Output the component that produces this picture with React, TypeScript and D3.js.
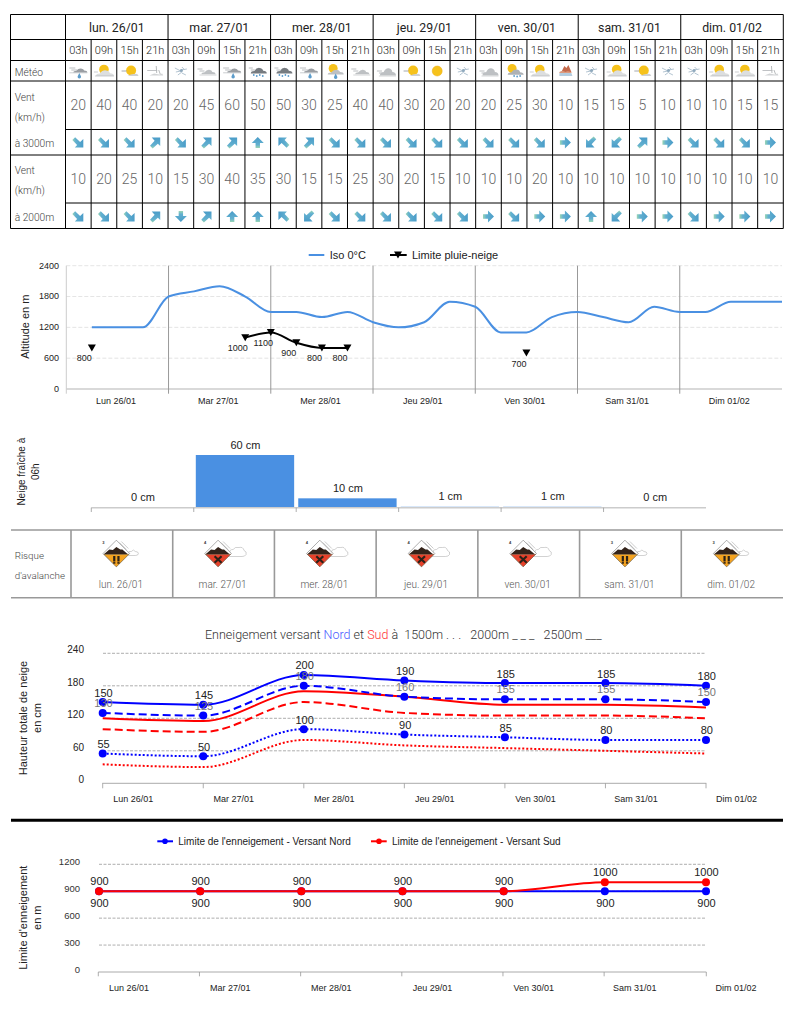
import * as d3 from "d3";

const ROBOTO = "Roboto, sans-serif";
const ARIAL = "'Liberation Sans', Arial, sans-serif";

// table
const tableDays = ["lun. 26/01", "mar. 27/01", "mer. 28/01", "jeu. 29/01", "ven. 30/01", "sam. 31/01", "dim. 01/02"];
const hours = ["03h", "09h", "15h", "21h"];
const weather = [
  "streakDrop", "sunCloud", "sunLow", "night",
  "windSnow", "flat", "streakDrop", "darkRain",
  "darkRain", "streakDrop", "sunDrop", "flat",
  "flatBig", "sunLow", "sun", "windSnow",
  "flatBig", "sunRain", "sunCloud", "storm",
  "windSnow", "sunCloud", "sunLow", "windSnow",
  "windSnow", "sunCloud", "sunCloud", "night",
];
const wind3000 = [20, 40, 40, 20, 20, 45, 60, 50, 50, 30, 25, 40, 40, 30, 20, 20, 20, 25, 30, 10, 15, 15, 5, 10, 10, 10, 15, 15];
const dir3000 = ["SE", "SE", "SE", "NE", "SE", "NE", "NE", "N", "NW", "NE", "SE", "SE", "SE", "SE", "SE", "SE", "SE", "SE", "SE", "E", "SW", "SW", "NE", "E", "SE", "SE", "SE", "E"];
const wind2000 = [10, 20, 25, 10, 15, 30, 40, 35, 30, 15, 15, 25, 30, 20, 15, 10, 10, 10, 20, 10, 10, 10, 10, 10, 10, 10, 10, 10];
const dir2000 = ["SE", "SE", "SE", "NE", "S", "NE", "N", "N", "NW", "SW", "SE", "SE", "SE", "SE", "SE", "SE", "E", "SE", "E", "E", "N", "SW", "E", "E", "SE", "E", "E", "E"];

// iso 0 and rain/snow limit, one value every 6h starting Lun 06h
const axisDays = ["Lun 26/01", "Mar 27/01", "Mer 28/01", "Jeu 29/01", "Ven 30/01", "Sam 31/01", "Dim 01/02"];
const isoValues = [1200, 1200, 1200, 1800, 1900, 2000, 1800, 1500, 1500, 1400, 1500, 1300, 1200, 1300, 1700, 1600, 1100, 1100, 1400, 1500, 1400, 1300, 1600, 1500, 1500, 1700, 1700, 1700];
const snowLimit: (number | null)[] = [800, null, null, null, null, null, 1000, 1100, 900, 800, 800, null, null, null, null, null, null, 700, null, null, null, null, null, null, null, null, null, null];
const altitudeTicks = [0, 600, 1200, 1800, 2400];

// fresh snow
const freshSnow = [0, 60, 10, 1, 1, 0];

// avalanche
const avalancheLevel = [3, 4, 4, 4, 4, 3, 3];

// snow depth
const depthTicks = [0, 60, 120, 180, 240];
const nord2500 = [150, 145, 200, 190, 185, 185, 180];
const nord2000 = [130, 125, 180, 160, 155, 155, 150];
const nord1500 = [55, 50, 100, 90, 85, 80, 80];
const sud2500 = [120, 115, 170, 160, 145, 145, 140];
const sud2000 = [100, 95, 150, 130, 125, 125, 120];
const sud1500 = [35, 30, 80, 70, 65, 60, 55];

// snow limit
const limitTicks = [0, 300, 600, 900, 1200];
const limitNord = [900, 900, 900, 900, 900, 900, 900];
const limitSud = [900, 900, 900, 900, 900, 1000, 1000];

const rotations: Record<string, number> = { N: 0, NE: 0, E: 90, SE: 90, S: 180, SW: 180, W: 270, NW: 270 };

function WindArrow({ x, y, dir }: { x: number; y: number; dir: string }) {
  const straight = "M0,-5.5 L6,0.5 L2.2,0.5 L2.2,5.5 L-2.2,5.5 L-2.2,0.5 L-6,0.5 Z";
  const corner = "M-3.5,-5 L5,-5 L5,3.5 L2.6,1.2 L-2.6,6 L-5.2,3.2 L-0.6,-1.8 Z";
  return (
    <path
      transform={`translate(${x},${y}) rotate(${rotations[dir]})`}
      d={dir.length === 1 ? straight : corner}
      fill="url(#arrowGrad)"
    />
  );
}

const cloudPath = (w: number, h: number) =>
  `M${-w},${h} Q${-w},${h * 0.3} ${-w * 0.55},${h * 0.3} Q${-w * 0.3},${-h * 0.7} ${w * 0.1},${-h * 0.6} Q${w * 0.5},${-h * 0.5} ${w * 0.55},${h * 0.2} Q${w},${h * 0.2} ${w},${h} Z`;

function Streaks({ x, y, len = 6, color = "#a8acb0" }: { x: number; y: number; len?: number; color?: string }) {
  return (
    <g stroke={color} strokeWidth={0.8}>
      <line x1={x} x2={x + len} y1={y} y2={y} />
      <line x1={x + 2} x2={x + len + 2} y1={y + 2} y2={y + 2} />
    </g>
  );
}

function Drop({ x, y }: { x: number; y: number }) {
  return <path d={`M${x},${y - 2} L${x + 1.5},${y + 1} A1.7,1.7 0 1 1 ${x - 1.5},${y + 1} Z`} fill="#5c9ccb" />;
}

function WeatherIcon({ x, y, type }: { x: number; y: number; type: string }) {
  let body = null;
  if (type === "streakDrop") {
    body = (
      <>
        <Streaks x={-9} y={-3} />
        <path d={cloudPath(7, 2.5)} transform="translate(2,-1)" fill="#9a9ea3" />
        <line x1={-9} x2={9} y1={1.8} y2={1.8} stroke="#b5b8bb" strokeWidth={0.7} />
        <Drop x={1} y={4} />
      </>
    );
  } else if (type === "sunCloud") {
    body = (
      <>
        <circle cx={0} cy={-1.5} r={4.8} fill="#f6c21c" />
        <path d={cloudPath(9, 3.5)} transform="translate(1,1.5)" fill="#dcdedf" />
        <line x1={-9} x2={10} y1={5} y2={5} stroke="#b5b8bb" strokeWidth={0.7} />
        <line x1={-10} x2={-6} y1={1} y2={1} stroke="#b5b8bb" strokeWidth={0.7} />
      </>
    );
  } else if (type === "sunLow") {
    body = (
      <>
        <circle cx={1.5} cy={-0.5} r={5} fill="#f6c21c" />
        <line x1={-8} x2={-3} y1={0} y2={0} stroke="#9a9ea3" strokeWidth={0.9} />
        <path d="M-2,5 L9,5 Q8,2 5,3 Q2,2.5 -2,5 Z" fill="#cfd1d3" />
      </>
    );
  } else if (type === "night") {
    body = (
      <>
        <line x1={-8} x2={2} y1={-0.5} y2={-0.5} stroke="#b0b3b6" strokeWidth={0.8} />
        <path d="M1,-5 L1.5,2 M3.5,-1 L5,3" stroke="#b0b3b6" strokeWidth={0.9} fill="none" />
        <path d="M-6,4.5 L8,4.5 L7,2.5 L4,3.5 L-1,2.5 Z" fill="#d2d4d6" />
      </>
    );
  } else if (type === "windSnow") {
    body = (
      <>
        <g stroke="#b4c5d2" strokeWidth={1} fill="none">
          <path d="M-6,-3 L-1,-0.5 M-5,1 L0,0 M-3,4 L1,1" />
          <path d="M1,-4 L4,-1 M0,-1 L6,-2 M1,2 L5,4" />
        </g>
        <circle cx={0.5} cy={-0.5} r={1.6} fill="#8fa9bd" />
      </>
    );
  } else if (type === "flat" || type === "flatBig") {
    const big = type === "flatBig";
    body = (
      <>
        <Streaks x={-9} y={big ? 0 : -2} len={5} />
        <path d={cloudPath(big ? 8 : 7, big ? 4.5 : 2.8)} transform={`translate(2,${big ? 0 : 0.5})`} fill="#bdc0c3" />
        <line x1={-7} x2={10} y1={big ? 5 : 4} y2={big ? 5 : 4} stroke="#c9cbcd" strokeWidth={0.8} />
      </>
    );
  } else if (type === "darkRain") {
    body = (
      <>
        <path d={cloudPath(8, 3.5)} transform="translate(1,-1)" fill="#767b80" />
        <Streaks x={-9} y={-3} len={4} />
        <g fill="#5c9ccb">
          <circle cx={-4} cy={4} r={0.9} />
          <circle cx={-1} cy={5} r={0.9} />
          <circle cx={2} cy={4} r={0.9} />
          <circle cx={5} cy={5} r={0.9} />
        </g>
      </>
    );
  } else if (type === "sunDrop") {
    body = (
      <>
        <circle cx={-1.5} cy={-2.5} r={4.5} fill="#f6c21c" />
        <path d={cloudPath(8, 3)} transform="translate(1,0.5)" fill="#bdc0c3" />
        <Drop x={1} y={4.5} />
      </>
    );
  } else if (type === "sunRain") {
    body = (
      <>
        <circle cx={-2} cy={-2.5} r={4.5} fill="#f6c21c" />
        <path d={cloudPath(8, 3.2)} transform="translate(1.5,0.5)" fill="#adb1b5" />
        <g fill="#5c9ccb">
          <circle cx={0} cy={5} r={0.9} />
          <circle cx={3} cy={5.5} r={0.9} />
          <circle cx={6} cy={5} r={0.9} />
        </g>
      </>
    );
  } else if (type === "sun") {
    body = <circle cx={0} cy={0} r={5} fill="#f6c21c" stroke="#eeae14" strokeWidth={0.5} />;
  } else if (type === "storm") {
    body = (
      <>
        <path d="M-4,1 L-1,-5 L1,-3 L3,-6 L6,1 Z" fill="#c46a4c" />
        <path d="M-6,2 L6,2 L7,5 L-6,5 Z" fill="#b4cde0" />
        <path d="M-6,1 Q-3,-1 0,1 Q3,-1 7,2 L-6,2 Z" fill="#dc9a7e" />
      </>
    );
  }
  return <g transform={`translate(${x},${y})`}>{body}</g>;
}

function AvalancheIcon({ x, y, level }: { x: number; y: number; level: number }) {
  const color = level === 3 ? "#f5a31f" : "#e8412a";
  const big = level === 4;
  return (
    <g transform={`translate(${x},${y})`}>
      <path
        d={
          big
            ? "M12,-1 Q11,-4 15,-4 Q17,-7 21,-6 Q25,-7 26,-3 Q29,-2 28,1 Q27,3 24,3 L8,3 Z"
            : "M12,0 Q12,-3 15,-2 Q17,-5 19,-2 Q22,-2 22,0 Q22,2 19,2 L9,2 Z"
        }
        fill="#fff"
        stroke="#a5a5a5"
        strokeWidth={0.5}
      />
      <path d="M0,-13.3 L13.3,0 L0,13.3 L-13.3,0 Z" fill="#fff" stroke="#777" strokeWidth={0.6} />
      <path d="M-12.5,0.8 L12.5,0.8 L0,13.3 Z" fill={color} stroke="#6d5a3a" strokeWidth={0.5} />
      <path d="M-12.5,0.8 L-7,-4 L-3.5,-3.5 L0,-6.5 L4,-4 L6,-4 L11.5,0.8 Z" fill="#33231a" />
      <path d="M3,-11 L10,-4 M5,-12 L12,-5" stroke="#a9a9a9" strokeWidth={0.6} />
      {level === 3 ? (
        <g fill="#2b2118">
          <rect x={-3.2} y={2.5} width={2.2} height={5.5} />
          <rect x={1} y={2.5} width={2.2} height={5.5} />
          <rect x={-3.2} y={8.6} width={2.2} height={1.6} />
          <rect x={1} y={8.6} width={2.2} height={1.6} />
        </g>
      ) : (
        <path d="M-3.5,2.8 L3.5,9.3 M3.5,2.8 L-3.5,9.3" stroke="#2b2118" strokeWidth={2.2} />
      )}
      <text x={-13} y={-9.8} fontFamily={ARIAL} fontSize={4} fontWeight={700} fill="#333" textAnchor="middle">
        {level}
      </text>
    </g>
  );
}

function Table() {
  const x = d3.scaleLinear().domain([0, 28]).range([65.5, 783.3]);
  const left = 10.5;
  const rows = [14.5, 39.5, 60.5, 81, 129.5, 155, 203, 228.5];
  const label = { fontFamily: ROBOTO, fontWeight: 300, fontSize: 10.2, fill: "#444" };
  const number = { fontFamily: ROBOTO, fontWeight: 300, fontSize: 14, fill: "#666", textAnchor: "middle" as const, dominantBaseline: "central" as const };
  const cells = d3.range(28);
  return (
    <g>
      <g stroke="#000" strokeWidth={1}>
        <line x1={left} x2={783.3} y1={rows[0]} y2={rows[0]} />
        <line x1={left} x2={783.3} y1={rows[1]} y2={rows[1]} />
        <line x1={left} x2={783.3} y1={rows[2]} y2={rows[2]} />
        <line x1={left} x2={783.3} y1={rows[3]} y2={rows[3]} />
        <line x1={x(0)} x2={783.3} y1={rows[4]} y2={rows[4]} />
        <line x1={left} x2={783.3} y1={rows[5]} y2={rows[5]} />
        <line x1={x(0)} x2={783.3} y1={rows[6]} y2={rows[6]} />
        <line x1={left} x2={783.3} y1={rows[7]} y2={rows[7]} />
        <line x1={left} x2={left} y1={rows[0]} y2={rows[7]} />
        {d3.range(29).map((i) => (
          <line key={i} x1={x(i)} x2={x(i)} y1={i % 4 === 0 ? rows[0] : rows[1]} y2={rows[7]} />
        ))}
      </g>
      {tableDays.map((d, i) => (
        <text key={d} x={x(i * 4 + 2)} y={27.5} fontFamily={ROBOTO} fontSize={12.3} fill="#222" textAnchor="middle" dominantBaseline="central">
          {d}
        </text>
      ))}
      {cells.map((i) => (
        <g key={i}>
          <text x={x(i + 0.5)} y={50.5} fontFamily={ROBOTO} fontWeight={300} fontSize={11} fill="#222" textAnchor="middle" dominantBaseline="central">
            {hours[i % 4]}
          </text>
          <WeatherIcon x={x(i + 0.5)} y={71} type={weather[i]} />
          <text x={x(i + 0.5)} y={105.3} {...number}>{wind3000[i]}</text>
          <WindArrow x={x(i + 0.5)} y={142.5} dir={dir3000[i]} />
          <text x={x(i + 0.5)} y={179.3} {...number}>{wind2000[i]}</text>
          <WindArrow x={x(i + 0.5)} y={216.5} dir={dir2000[i]} />
        </g>
      ))}
      <g {...label} dominantBaseline="central">
        <text x={14.7} y={72.3}>Météo</text>
        <text x={14.7} y={97.3}>Vent</text>
        <text x={14.7} y={117.7}>(km/h)</text>
        <text x={14.7} y={143.3}>à 3000m</text>
        <text x={14.7} y={170.3}>Vent</text>
        <text x={14.7} y={190.3}>(km/h)</text>
        <text x={14.7} y={217.3}>à 2000m</text>
      </g>
    </g>
  );
}

function IsoChart() {
  const x = d3.scaleLinear().domain([0, 28]).range([66.3, 782]);
  const y = d3.scaleLinear().domain([0, 2400]).range([389, 265.7]);
  const line = d3
    .line<number | null>()
    .defined((d) => d !== null)
    .x((_, i) => x(i + 1))
    .y((d) => y(d as number))
    .curve(d3.curveMonotoneX);
  return (
    <g fontFamily={ARIAL}>
      <line x1={308.7} x2={324.3} y1={255} y2={255} stroke="#4a90e2" strokeWidth={2} />
      <text x={329.7} y={255} fontSize={11} fill="#222" dominantBaseline="central">Iso 0°C</text>
      <line x1={390} x2={406.7} y1={255} y2={255} stroke="#000" strokeWidth={2} />
      <path d="M394,251.5 L402,251.5 L398,258.5 Z" fill="#000" />
      <text x={412} y={255} fontSize={11} fill="#222" dominantBaseline="central">Limite pluie-neige</text>
      {altitudeTicks.map((t) => (
        <g key={t}>
          {t > 0 && <line x1={66.3} x2={782} y1={y(t)} y2={y(t)} stroke="#ddd" strokeWidth={0.8} strokeDasharray="4 2" />}
          <text x={59} y={y(t) + (t === 1800 || t === 0 ? -0.5 : 0)} fontSize={9} fill="#222" textAnchor="end" dominantBaseline="central">{t}</text>
        </g>
      ))}
      <line x1={66.3} x2={782} y1={y(0)} y2={y(0)} stroke="#ccc" strokeWidth={1.5} />
      {d3.range(7).map((i) => (
        <line key={i} x1={x(i * 4)} x2={x(i * 4)} y1={y(2400)} y2={393.7} stroke={i === 0 ? "#ccc" : "#999"} strokeWidth={1} />
      ))}
      {axisDays.map((d, i) => (
        <text key={d} x={x(i * 4 + 2) - 1.5} y={400.7} fontSize={9} fill="#222" textAnchor="middle" dominantBaseline="central">{d}</text>
      ))}
      <path d={line(isoValues) ?? ""} fill="none" stroke="#4a90e2" strokeWidth={2} />
      <path d={line(snowLimit) ?? ""} fill="none" stroke="#000" strokeWidth={2} />
      {snowLimit.map((v, i) =>
        v === null ? null : (
          <g key={i}>
            <path transform={`translate(${x(i + 1)},${y(v)})`} d="M-4,-3.5 L4,-3.5 L0,3.5 Z" fill="#000" />
            <text x={x(i + 1) - 7.5} y={y(v) + 10.5} fontSize={9} fill="#222" textAnchor="middle" dominantBaseline="central">{v}</text>
          </g>
        )
      )}
      <text transform="translate(24.7,326.7) rotate(-90)" fontSize={11} fill="#222" textAnchor="middle" dominantBaseline="central">Altitude en m</text>
    </g>
  );
}

function SnowBars() {
  const x = d3.scaleBand<number>().domain(d3.range(6)).range([91.3, 706]).paddingInner(0.04).paddingOuter(0.02);
  const y = d3.scaleLinear().domain([0, 60]).range([507, 455]);
  const step = x.step();
  return (
    <g fontFamily={ARIAL}>
      <line x1={91.3} x2={706} y1={507.7} y2={507.7} stroke="#ccc" strokeWidth={1.6} />
      {freshSnow.map((v, i) => (
        <g key={i}>
          <rect x={x(i)} y={y(v)} width={x.bandwidth()} height={y(0) - y(v)} fill="#4a90e2" fillOpacity={v > 1 ? 1 : 0.25} />
          <text x={(x(i) as number) + x.bandwidth() / 2 + 0.5} y={y(v) - 10.5} fontSize={11} fill="#222" textAnchor="middle" dominantBaseline="central">{v} cm</text>
          <line x1={91.3 + i * step} x2={91.3 + i * step} y1={507.7} y2={512} stroke="#999" strokeWidth={0.8} />
        </g>
      ))}
      <text transform="translate(21.7,471.7) rotate(-90)" fontSize={10} fill="#222" textAnchor="middle" dominantBaseline="central">Neige fraîche à</text>
      <text transform="translate(35,471.7) rotate(-90)" fontSize={10} fill="#222" textAnchor="middle" dominantBaseline="central">06h</text>
    </g>
  );
}

function Avalanche() {
  const x = d3.scaleLinear().domain([0, 7]).range([71, 783]);
  return (
    <g>
      <line x1={11} x2={783} y1={530} y2={530} stroke="#999" strokeWidth={1.6} />
      <line x1={11} x2={783} y1={597.7} y2={597.7} stroke="#999" strokeWidth={1.6} />
      {d3.range(7).map((i) => (
        <line key={i} x1={x(i)} x2={x(i)} y1={530} y2={597.7} stroke="#999" strokeWidth={1.6} />
      ))}
      <g fontFamily={ROBOTO} fontWeight={300} fontSize={9.8} fill="#444" dominantBaseline="central">
        <text x={14.7} y={555}>Risque</text>
        <text x={14.7} y={575.3}>d'avalanche</text>
      </g>
      {avalancheLevel.map((level, i) => (
        <g key={i}>
          <AvalancheIcon x={x(i + 0.5) - 5.5} y={553.5} level={level} />
          <text x={x(i + 0.5) - 1} y={584.7} fontFamily={ROBOTO} fontWeight={300} fontSize={10} fill="#555" textAnchor="middle" dominantBaseline="central">{tableDays[i]}</text>
        </g>
      ))}
    </g>
  );
}

function DepthChart() {
  const x = d3.scaleLinear().domain([0, 6]).range([102.7, 706]);
  const y = d3.scaleLinear().domain([0, 240]).range([783.3, 653.3]);
  const line = d3
    .line<number>()
    .x((_, i) => x(i))
    .y((d) => y(d))
    .curve(d3.curveMonotoneX);
  const series = [
    { values: sud2500, color: "#f00", dash: undefined },
    { values: sud2000, color: "#f00", dash: "8 4" },
    { values: sud1500, color: "#f00", dash: "2 2" },
    { values: nord2500, color: "#00f", dash: undefined },
    { values: nord2000, color: "#00f", dash: "8 4" },
    { values: nord1500, color: "#00f", dash: "2 2" },
  ];
  const labelled = [
    { values: nord2500, fill: "#222", dy: -9.5 },
    { values: nord2000, fill: "#777", dy: -10 },
    { values: nord1500, fill: "#222", dy: -9.5 },
  ];
  return (
    <g fontFamily={ARIAL}>
      <text x={205} y={634} fontFamily={ROBOTO} fontWeight={300} fontSize={12.5} fill="#333" dominantBaseline="central" xmlSpace="preserve">
        Enneigement versant <tspan fill="#4a5cff">Nord</tspan> et <tspan fill="#f33">Sud</tspan> à  1500m . . .   2000m _ _ _   2500m ___
      </text>
      {depthTicks.map((t) => (
        <g key={t}>
          {t > 0 && <line x1={103} x2={706} y1={y(t)} y2={y(t)} stroke="#999" strokeWidth={0.8} strokeDasharray="3 1.5" />}
          <text x={84} y={y(t) - 3.5} fontSize={10} fill="#222" textAnchor="end" dominantBaseline="central">{t}</text>
        </g>
      ))}
      <line x1={102.3} x2={706.3} y1={y(0)} y2={y(0)} stroke="#aaa" strokeWidth={1} />
      {d3.range(7).map((i) => (
        <line key={i} x1={x(i)} x2={x(i)} y1={y(0)} y2={788.3} stroke="#999" strokeWidth={0.8} />
      ))}
      {axisDays.map((d, i) => (
        <text key={d} x={x(i) + 30.5} y={798.7} fontSize={9} fill="#222" textAnchor="middle" dominantBaseline="central">{d}</text>
      ))}
      {series.map((s, i) => (
        <path key={i} d={line(s.values) ?? ""} fill="none" stroke={s.color} strokeWidth={2} strokeDasharray={s.dash} />
      ))}
      {labelled.map((s, k) => (
        <g key={k}>
          {s.values.map((v, i) => (
            <circle key={i} cx={x(i)} cy={y(v)} r={4} fill="#00f" />
          ))}
          {s.values.map((v, i) => (
            <text key={i} x={x(i) + 0.8} y={y(v) + s.dy} fontSize={11} fill={s.fill} textAnchor="middle" dominantBaseline="central">{v}</text>
          ))}
        </g>
      ))}
      <text transform="translate(22.7,718) rotate(-90)" fontSize={11} fill="#222" textAnchor="middle" dominantBaseline="central">Hauteur totale de neige</text>
      <text transform="translate(37.3,718) rotate(-90)" fontSize={11} fill="#222" textAnchor="middle" dominantBaseline="central">en cm</text>
    </g>
  );
}

function LimitChart() {
  const x = d3.scaleLinear().domain([0, 6]).range([99, 706]);
  const y = d3.scaleLinear().domain([0, 1200]).range([972, 864.3]);
  const line = d3
    .line<number>()
    .x((_, i) => x(i))
    .y((d) => y(d))
    .curve(d3.curveMonotoneX);
  return (
    <g fontFamily={ARIAL}>
      <line x1={157.3} x2={173} y1={841.3} y2={841.3} stroke="#00f" strokeWidth={2} />
      <circle cx={165} cy={841.3} r={2.8} fill="#00f" />
      <text x={178.3} y={841.3} fontSize={10} fill="#222" dominantBaseline="central">Limite de l'enneigement - Versant Nord</text>
      <line x1={371} x2={386.7} y1={841.3} y2={841.3} stroke="#f00" strokeWidth={2} />
      <circle cx={379} cy={841.3} r={2.8} fill="#f00" />
      <text x={392} y={841.3} fontSize={10} fill="#222" dominantBaseline="central">Limite de l'enneigement - Versant Sud</text>
      {limitTicks.map((t) => (
        <g key={t}>
          {t > 0 && <line x1={99} x2={706} y1={y(t)} y2={y(t)} stroke="#999" strokeWidth={0.8} strokeDasharray="3 1.5" />}
          <text x={80} y={y(t) - 3} fontSize={9.5} fill="#333" textAnchor="end" dominantBaseline="central">{t}</text>
        </g>
      ))}
      <line x1={98.3} x2={706.3} y1={y(0)} y2={y(0)} stroke="#aaa" strokeWidth={1} />
      {d3.range(7).map((i) => (
        <line key={i} x1={i === 6 ? 706.3 : x(i) - 0.7} x2={i === 6 ? 706.3 : x(i) - 0.7} y1={y(0)} y2={976.3} stroke="#999" strokeWidth={0.8} />
      ))}
      {axisDays.map((d, i) => (
        <text key={d} x={i === 6 ? 736 : x(i) + 30} y={987.7} fontSize={9} fill="#222" textAnchor="middle" dominantBaseline="central">{d}</text>
      ))}
      <path d={line(limitNord) ?? ""} fill="none" stroke="#00f" strokeWidth={2} />
      {limitNord.map((v, i) => (
        <g key={i}>
          <circle cx={x(i)} cy={y(v)} r={4} fill="#00f" />
          <text x={x(i) + 0.5} y={y(v) + 11.5} fontSize={11} fill="#222" textAnchor="middle" dominantBaseline="central">{v}</text>
        </g>
      ))}
      <path d={line(limitSud) ?? ""} fill="none" stroke="#f00" strokeWidth={2} />
      {limitSud.map((v, i) => (
        <g key={i}>
          <circle cx={x(i)} cy={y(v)} r={4} fill="#f00" />
          <text x={x(i) + 0.5} y={y(v) - 10} fontSize={11} fill="#222" textAnchor="middle" dominantBaseline="central">{v}</text>
        </g>
      ))}
      <text transform="translate(22.7,917.7) rotate(-90)" fontSize={11} fill="#222" textAnchor="middle" dominantBaseline="central">Limite d'enneigement</text>
      <text transform="translate(37.3,917.7) rotate(-90)" fontSize={11} fill="#222" textAnchor="middle" dominantBaseline="central">en m</text>
    </g>
  );
}

export default function App() {
  return (
    <svg width={794} height={1021} viewBox="0 0 794 1021" style={{ position: "absolute", left: 0, top: 0, background: "#fff" }}>
      <defs>
        <linearGradient id="arrowGrad" x1="0" y1="0" x2="0" y2="1">
          <stop offset="0" stopColor="#4a9cc8" />
          <stop offset="0.7" stopColor="#62b0d0" />
          <stop offset="1" stopColor="#9ad6b4" />
        </linearGradient>
      </defs>
      <Table />
      <IsoChart />
      <SnowBars />
      <Avalanche />
      <DepthChart />
      <line x1={11} x2={783} y1={820.3} y2={820.3} stroke="#000" strokeWidth={3} />
      <LimitChart />
    </svg>
  );
}
